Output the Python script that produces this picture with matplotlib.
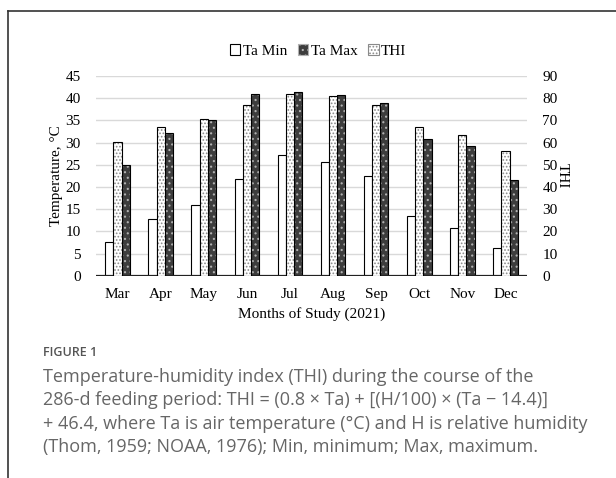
import numpy as np
import matplotlib.pyplot as plt
from matplotlib.patches import Patch
from matplotlib.lines import Line2D

months = ['Mar', 'Apr', 'May', 'Jun', 'Jul', 'Aug', 'Sep', 'Oct', 'Nov', 'Dec']
ta_min = [7.6, 12.8, 15.9, 21.7, 27.3, 25.6, 22.5, 13.5, 10.8, 6.2]
ta_max = [25.0, 32.1, 35.0, 41.0, 41.3, 40.7, 38.9, 30.9, 29.2, 21.5]
thi = [60.4, 67.1, 70.4, 77.0, 81.8, 80.8, 77.0, 67.0, 63.5, 56.0]
left_ticks = np.arange(0, 50, 5)
right_ticks = np.arange(0, 100, 10)

caption = ("Temperature-humidity index (THI) during the course of the\n"
           "286-d feeding period: THI = (0.8 \u00d7 Ta) + [(H/100) \u00d7 (Ta \u2212 14.4)]\n"
           "+ 46.4, where Ta is air temperature (\u00b0C) and H is relative humidity\n"
           "(Thom, 1959; NOAA, 1976); Min, minimum; Max, maximum.")

plt.rcParams['font.family'] = ['Liberation Serif', 'DejaVu Serif']
plt.rcParams['hatch.linewidth'] = 0.8

fig = plt.figure(figsize=(6.16, 4.78), dpi=100)
ax = fig.add_axes([96/616, 1-275.7/478, 431/616, 199.7/478])
ax2 = ax.twinx()

x = np.arange(len(months))
w = 0.19

# Ta Min: plain white bars
ax.bar(x - w, ta_min, w, facecolor='white', edgecolor='black', linewidth=0.8, zorder=3)
# Ta Max: dark bars with light dots
ax.bar(x + w, ta_max, w, facecolor='#3d3d3d', edgecolor='#b0b0b0', hatch='...', linewidth=0, zorder=3)
ax.bar(x + w, ta_max, w, facecolor='none', edgecolor='black', linewidth=0.8, zorder=4)
# THI on the secondary axis: white with grey dots
ax2.bar(x, thi, w, facecolor='white', edgecolor='#8a8a8a', hatch='.....', linewidth=0, zorder=3)
ax2.bar(x, thi, w, facecolor='none', edgecolor='black', linewidth=0.8, zorder=4)

ax.set_xlim(-0.5, len(months) - 0.5)
ax.set_ylim(0, 45)
ax2.set_ylim(0, 90)
ax.set_yticks(left_ticks)
ax2.set_yticks(right_ticks)
ax.set_xticks(x)
ax.set_xticklabels(months)

ax.grid(axis='y', color='#d9d9d9', linewidth=1.0, zorder=0)
ax.set_axisbelow(True)
for a in (ax, ax2):
    for s in ('top', 'left', 'right', 'bottom'):
        a.spines[s].set_visible(False)
ax.axhline(0, color='#222222', linewidth=1.6, zorder=5)

ax.tick_params(axis='y', length=0, pad=11, labelsize=11)
ax2.tick_params(axis='y', length=0, pad=11, labelsize=11)
ax.tick_params(axis='x', length=0, pad=9, labelsize=11)

ax.set_ylabel('Temperature, \u00b0C', fontsize=11, labelpad=2)
ax2.set_ylabel('THI', fontsize=11, rotation=270, labelpad=8)
ax.set_xlabel('Months of Study (2021)', fontsize=11, labelpad=4)

handles = [
    Patch(facecolor='white', edgecolor='black', linewidth=0.8),
    Patch(facecolor='#3d3d3d', edgecolor='#b0b0b0', hatch='...', linewidth=0.8),
    Patch(facecolor='white', edgecolor='#8a8a8a', hatch='.....', linewidth=0.8),
]
fig.legend(handles, ['Ta Min', 'Ta Max', 'THI'], loc='center', bbox_to_anchor=(318/616, 1-51/478),
           ncol=3, frameon=False, fontsize=11, handlelength=0.7, handleheight=0.7,
           handletextpad=0.15, columnspacing=0.7)

# outer frame of the figure panel
fig.add_artist(Line2D([8/616, 1.0], [1-11/478, 1-11/478], transform=fig.transFigure, color='#333333', linewidth=1.2))
fig.add_artist(Line2D([8/616, 8/616], [0, 1-11/478], transform=fig.transFigure, color='#333333', linewidth=1.2))

fig.text(43/616, 1-353/478, 'FIGURE 1', family='Open Sans', fontsize=9, fontweight='semibold',
         color='#555555', va='center', ha='left')
fig.text(43/616, 1-368/478, caption, family='Open Sans', fontsize=13, color='#666666',
         va='top', ha='left', linespacing=1.38)

fig.savefig('out.png', dpi=100)
